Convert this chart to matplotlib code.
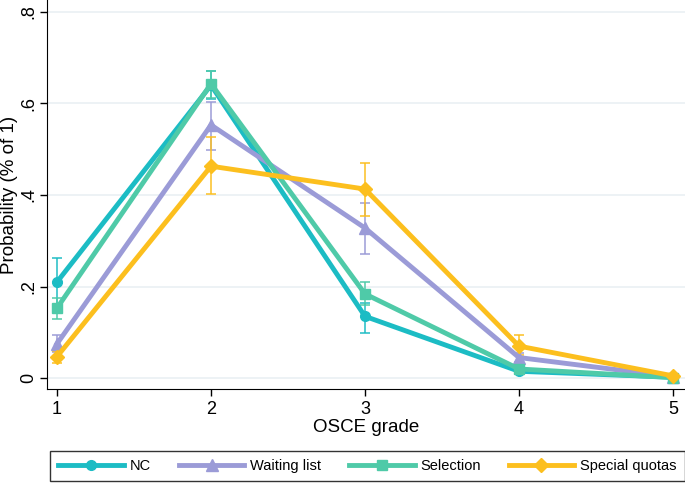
import numpy as np
import matplotlib.pyplot as plt

plt.rcParams['font.family'] = ['Liberation Sans', 'DejaVu Sans']

# OSCE grade categories
grades = [1, 2, 3, 4, 5]

# predicted probabilities per admission group
nc = [0.21, 0.64, 0.135, 0.015, 0.002]
nc_lo = [0.16, 0.61, 0.098, 0.008, 0.0]
nc_hi = [0.262, 0.67, 0.165, 0.022, 0.004]

waiting = [0.075, 0.553, 0.328, 0.045, 0.003]
waiting_lo = [0.058, 0.498, 0.271, 0.035, 0.0]
waiting_hi = [0.095, 0.603, 0.383, 0.056, 0.006]

selection = [0.153, 0.643, 0.184, 0.02, 0.001]
selection_lo = [0.13, 0.613, 0.16, 0.013, 0.0]
selection_hi = [0.175, 0.671, 0.21, 0.027, 0.003]

quotas = [0.047, 0.463, 0.413, 0.07, 0.005]
quotas_lo = [0.033, 0.402, 0.354, 0.05, 0.001]
quotas_hi = [0.06, 0.527, 0.47, 0.095, 0.009]

series = [
    ("NC", nc, nc_lo, nc_hi, "#1cbcc4", "o", 7),
    ("Waiting list", waiting, waiting_lo, waiting_hi, "#9b9bd7", "^", 8),
    ("Selection", selection, selection_lo, selection_hi, "#4fcaa8", "s", 7),
    ("Special quotas", quotas, quotas_lo, quotas_hi, "#fcbf1e", "D", 7),
]

fig = plt.figure(figsize=(6.85, 4.84), dpi=100)
ax = fig.add_axes([0.0686, 0.196, 0.9314, 0.804])

for y in [0, 0.2, 0.4, 0.6, 0.8]:
    ax.axhline(y, color="#eaf0f3", lw=1.2, zorder=0)

handles = []
for name, vals, lo, hi, col, mk, ms in series:
    vals = np.array(vals)
    yerr = [vals - np.array(lo), np.array(hi) - vals]
    ax.errorbar(grades, vals, yerr=yerr, fmt="none", ecolor=col, elinewidth=1.2,
                capsize=3.8, capthick=1.2, alpha=0.9, zorder=2)
    h, = ax.plot(grades, vals, color=col, lw=3.5, marker=mk, ms=ms,
                 markeredgecolor=col, label=name, zorder=3)
    handles.append(h)

ax.set_xlim(0.935, 5.078)
ax.set_ylim(-0.024, 0.826)
ax.set_xticks(grades)
ax.set_yticks([0, 0.2, 0.4, 0.6, 0.8])
ax.set_yticklabels(["0", ".2", ".4", ".6", ".8"], rotation=90, va="center")
ax.tick_params(axis="both", direction="out", length=5, width=1, labelsize=13, color="black")
ax.tick_params(axis="y", pad=2)
ax.spines["top"].set_visible(False)
ax.spines["right"].set_visible(False)
ax.set_xlabel("OSCE grade", fontsize=13.5, labelpad=1)
ax.set_ylabel("Probability (% of 1)", fontsize=13.5)
ax.yaxis.set_label_coords(-0.046, 0.5)

leg = fig.legend(handles=handles, loc="center", bbox_to_anchor=(0.5365, 0.0372), ncol=4,
                 frameon=True, fancybox=False, edgecolor="black", fontsize=10.5,
                 handlelength=4.5, handletextpad=0.4, columnspacing=1.9, borderpad=0.55)
leg.get_frame().set_linewidth(1.0)

fig.savefig("out.png", dpi=100)
